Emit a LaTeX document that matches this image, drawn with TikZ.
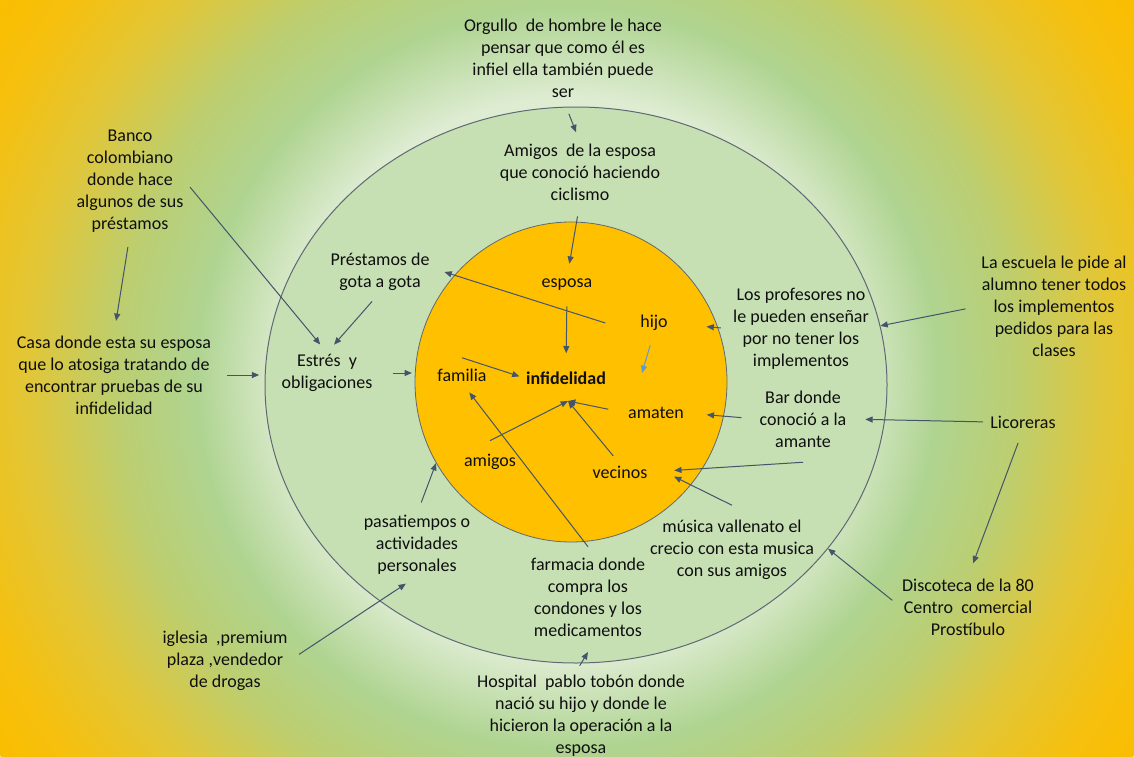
\documentclass[tikz,border=0pt]{standalone}
\usepackage{fontspec}
\setmainfont{Carlito}
\usepackage{xcolor}
\usepackage{tikz}
\usetikzlibrary{shapes.geometric, arrows.meta, positioning, calc}
\definecolor{MapOrange}{RGB}{255, 192, 0}
\definecolor{MapRing}{RGB}{198, 224, 180}
\definecolor{MapLine}{RGB}{68, 84, 106}
\definecolor{MapBlue}{RGB}{91, 155, 213}
\definecolor{MapEdge}{RGB}{95, 105, 115}
\definecolor{MapText}{RGB}{15, 15, 15}
\definecolor{GlowCenter}{RGB}{236, 244, 230}
\definecolor{GlowPale}{RGB}{222, 236, 210}
\definecolor{GlowGreen}{RGB}{175, 212, 145}
\definecolor{GlowLime}{RGB}{188, 206, 112}
\definecolor{GlowYellow}{RGB}{226, 198, 55}
\definecolor{GlowOrange}{RGB}{245, 192, 15}
\definecolor{GlowDeep}{RGB}{250, 190, 0}
\pgfdeclareradialshading{mapglow}{\pgfpoint{0bp}{0bp}}{%
  color(0bp)=(GlowCenter); color(10.3bp)=(GlowPale); color(13.6bp)=(GlowGreen);
  color(16.5bp)=(GlowLime); color(19.8bp)=(GlowYellow); color(22.8bp)=(GlowOrange);
  color(25bp)=(GlowDeep); color(50bp)=(GlowDeep)}

\begin{document}
\begin{tikzpicture}[x=0.75pt, y=-0.75pt,
  lbl/.style={align=center, inner sep=1pt, text=MapText, font=\fontsize{13.5}{16.5}\selectfont},
  arr/.style={draw=MapLine, line width=0.75pt, -{Triangle[length=5.5pt, width=4.5pt]}}]
  \useasboundingbox (0,0) rectangle (1134,756);
  \begin{scope}
    \clip (0,0) rectangle (1134,756);
    \shade[shading=mapglow] (567,378) circle (510.75pt);
  \end{scope}

  \node[ellipse, draw=MapEdge, fill=MapRing, line width=0.75pt,
        minimum width=466.5pt, minimum height=417pt] (outer) at (576,385) {};
  \node[ellipse, draw=MapEdge, fill=MapOrange, line width=0.6pt,
        minimum width=234pt, minimum height=240pt] (inner) at (571,382) {};

  \node[lbl] (orgullo) at (563,58) {Orgullo\ \ de hombre le hace\\pensar que como él es\\infiel ella también puede\\ser};
  \node[lbl] (amigosEsposa) at (580,172) {Amigos\ \ de la esposa\\que conoció haciendo\\ciclismo};
  \node[lbl] (banco) at (130,181) {Banco\\colombiano\\donde hace\\algunos de sus\\préstamos};
  \node[lbl] (casa) at (114,375) {Casa donde esta su esposa\\que lo atosiga tratando de\\encontrar pruebas de su\\infidelidad};
  \node[lbl] (prestamos) at (380,272) {Préstamos de\\gota a gota};
  \node[lbl] (estres) at (327,373) {Estrés\ \ y\\obligaciones};
  \node[lbl] (esposa) at (567,285) {esposa};
  \node[lbl] (hijo) at (654,323) {hijo};
  \node[lbl] (familia) at (462,375) {familia};
  \node[lbl, font=\fontsize{13.5}{16.5}\selectfont\bfseries] (infidelidad) at (566,378) {infidelidad};
  \node[lbl] (amaten) at (656,413) {amaten};
  \node[lbl] (amigos) at (490,462) {amigos};
  \node[lbl] (vecinos) at (620,472) {vecinos};
  \node[lbl] (profesores) at (801,329) {Los profesores no\\le pueden enseñar\\por no tener los\\implementos};
  \node[lbl] (escuela) at (1054,306) {La escuela le pide al\\alumno tener todos\\los implementos\\pedidos para las\\clases};
  \node[lbl] (bar) at (803,419) {Bar donde\\conoció a la\\amante};
  \node[lbl] (licoreras) at (1023,422) {Licoreras};
  \node[lbl] (pasatiempos) at (417,545) {pasatiempos o\\actividades\\personales};
  \node[lbl] (musica) at (732,550) {música vallenato el\\crecio con esta musica\\con sus amigos};
  \node[lbl] (farmacia) at (588,597) {farmacia donde\\compra los\\condones y los\\medicamentos};
  \node[lbl] (discoteca) at (968,607) {Discoteca de la 80\\Centro\ \ comercial\\Prostíbulo};
  \node[lbl] (iglesia) at (225,661) {iglesia\ \ ,premium\\plaza ,vendedor\\de drogas};
  \node[lbl] (hospital) at (581,716) {Hospital\ \ pablo tobón donde\\nació su hijo y donde le\\hicieron la operación a la\\esposa};

  \coordinate (hijoTip) at (642,373);
  \coordinate (infFoot) at (568,401);
  \coordinate (hospTip) at (588,652);

  \draw[arr, shorten <=12pt, shorten >=8pt] (orgullo.south) -- (amigosEsposa.north);
  \draw[arr, shorten <=11pt, shorten >=10.5pt] (amigosEsposa.south) -- (esposa.north);
  \draw[arr, shorten <=10.5pt, shorten >=12.5pt] (esposa.south) -- (infidelidad.north);
  \draw[arr] ([xshift=-25pt]hijo.west) -- ([xshift=10pt]prestamos.east);
  \draw[arr, shorten <=6pt, shorten >=8pt] (banco.east) -- (estres.north);
  \draw[arr, shorten <=9pt, shorten >=8pt] (prestamos.south) -- (estres.north);
  \draw[arr, shorten <=10pt, shorten >=10pt] (banco.south) -- (casa.north);
  \draw[arr, shorten <=11pt, shorten >=4pt] (casa.east) -- (casa.east -| outer.west);
  \draw[arr, shorten <=14pt, shorten >=2pt] (estres.east) -- (estres.east -| inner.west);
  \draw[arr, shorten >=4pt] ([yshift=7pt]familia.north) -- (infidelidad.west);
  \draw[arr, draw=MapBlue, shorten <=10pt] (hijo.south) -- (hijoTip);
  \draw[arr, shorten <=8pt, shorten >=28pt] (profesores.west) -- (hijo.east);
  \draw[arr, shorten <=11pt] (escuela.west) -- (outer.11);
  \draw[arr, shorten <=12.5pt, shorten >=16pt] (bar.west) -- (amaten.east);
  \draw[arr, shorten <=4.5pt, shorten >=13pt] (licoreras.west) -- (bar.east);
  \draw[arr, shorten <=10.5pt, shorten >=11pt] (licoreras.south) -- (discoteca.north);
  \draw[arr, shorten <=8pt] (discoteca.west) -- (outer.-33);
  \draw[arr] ([shift={(-1pt,6pt)}]hospital.north) -- (hospTip);
  \draw[arr, shorten >=21pt] ([yshift=10pt]musica.north) -- (vecinos.north east);
  \draw[arr, shorten >=19pt] ([yshift=-10pt]bar.south) -- (vecinos.east);
  \draw[arr, shorten <=9pt] (pasatiempos.north) -- (inner.211);
  \draw[arr, shorten <=9pt, shorten >=10pt] (iglesia.east) -- (pasatiempos.south);
  \draw[arr, shorten >=9pt] ([yshift=7pt]farmacia.north) -- (familia.south);
  \draw[arr] ([yshift=9pt]amigos.north) -- (infFoot);
  \draw[arr, shorten <=8pt] (vecinos.north) -- (infFoot);
  \draw[arr, shorten <=14pt] (amaten.west) -- (infFoot);
\end{tikzpicture}
\end{document}
